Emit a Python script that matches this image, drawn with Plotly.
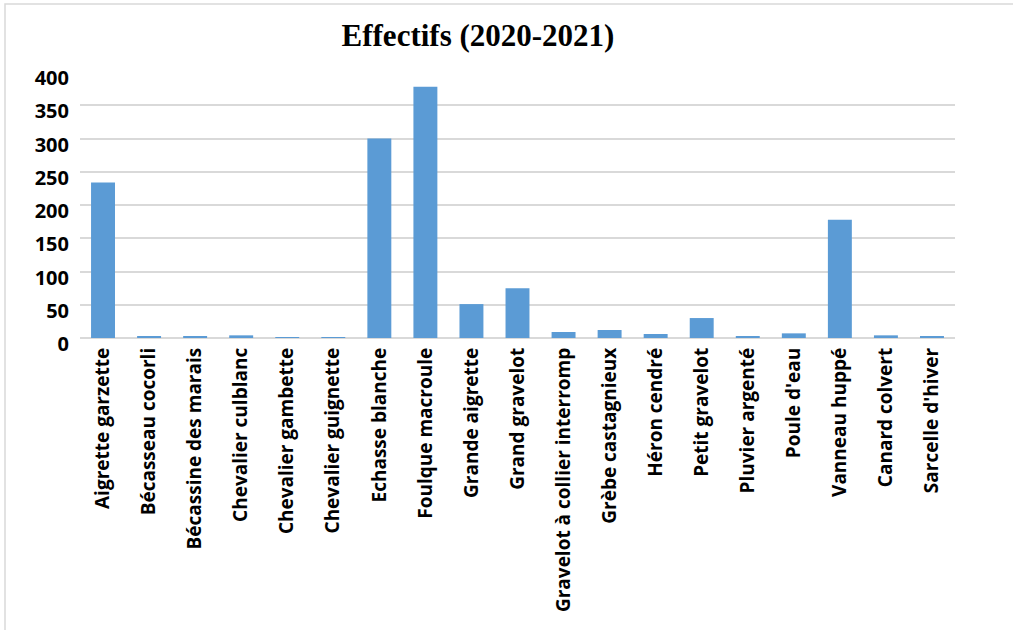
import plotly.graph_objects as go

species = [
    "Aigrette garzette", "Bécasseau cocorli", "Bécassine des marais",
    "Chevalier culblanc", "Chevalier gambette", "Chevalier guignette",
    "Echasse blanche", "Foulque macroule", "Grande aigrette",
    "Grand gravelot", "Gravelot à collier interromp", "Grèbe castagnieux",
    "Héron cendré", "Petit gravelot", "Pluvier argenté", "Poule d'eau",
    "Vanneau huppé", "Canard colvert", "Sarcelle d'hiver",
]
effectifs = [234, 2, 2, 4, 1, 1, 300, 378, 51, 75, 9, 12, 6, 30, 2, 7, 178, 4, 2]

y_ticks = [0, 50, 100, 150, 200, 250, 300, 350, 400]

W, H = 1013, 630
L, R, T, B = 80, 58, 72, 292
pw, ph = W - L - R, H - T - B

fig = go.Figure(
    go.Bar(
        x=species,
        y=effectifs,
        marker=dict(color="#5B9BD5", line=dict(width=0)),
    )
)

fig.update_layout(
    width=W,
    height=H,
    margin=dict(l=L, r=R, t=T, b=B),
    paper_bgcolor="white",
    plot_bgcolor="white",
    bargap=0.48,
    showlegend=False,
    title=dict(
        text="<b>Effectifs (2020-2021)</b>",
        x=(478 - L) / pw,
        xref="paper",
        xanchor="center",
        y=1 - 35 / H,
        yanchor="middle",
        font=dict(family="Liberation Serif", size=31, color="black"),
    ),
    xaxis=dict(
        tickangle=-90,
        tickfont=dict(family="Open Sans", size=19, color="black", weight="bold"),
        showgrid=False,
        showline=False,
        ticks="",
        ticklen=0,
        ticklabelstandoff=5,
    ),
    yaxis=dict(
        range=[0, 400],
        tickvals=y_ticks,
        ticktext=[str(v) for v in y_ticks],
        tickfont=dict(family="Open Sans", size=20, color="black", weight="bold"),
        showgrid=True,
        gridcolor="#d9d9d9",
        gridwidth=1.5,
        zeroline=True,
        zerolinecolor="#d9d9d9",
        zerolinewidth=1.5,
        showline=False,
        ticks="",
        ticklabelstandoff=10,
        ticklabelshift=6,
    ),
)

# outer chart frame
fig.add_shape(
    type="rect",
    xref="paper",
    yref="paper",
    x0=(5 - L) / pw,
    x1=(W + 10 - L) / pw,
    y0=-(B + 10) / ph,
    y1=(H - B - 4) / ph,
    line=dict(color="#d9d9d9", width=1.5),
    fillcolor="rgba(0,0,0,0)",
    layer="below",
)

fig.write_html("out.html")
